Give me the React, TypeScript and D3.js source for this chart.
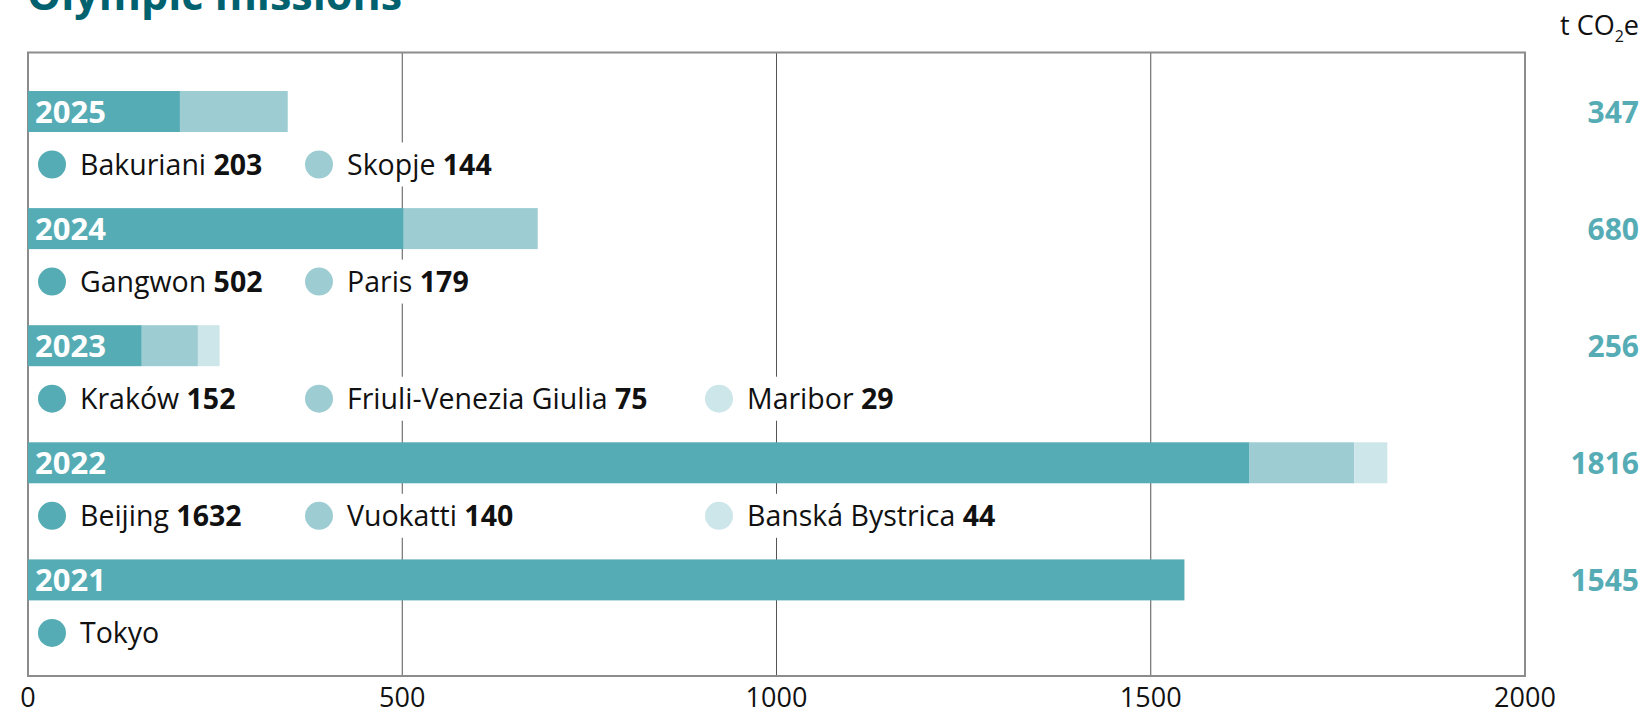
import * as d3 from "d3";
import { useEffect, useRef } from "react";

// data
const years = ["2025", "2024", "2023", "2022", "2021"];
const totals = [347, 680, 256, 1816, 1545];
const venueNames = [
    ["Bakuriani", "Skopje"],
    ["Gangwon", "Paris"],
    ["Kraków", "Friuli-Venezia Giulia", "Maribor"],
    ["Beijing", "Vuokatti", "Banská Bystrica"],
    ["Tokyo"],
];
const venueValues = [
    [203, 144],
    [502, 179],
    [152, 75, 29],
    [1632, 140, 44],
    [1545],
];
const xTicks = [0, 500, 1000, 1500, 2000];
const unitLabel = "t CO";

const W = 1644;
const H = 713;
const FONT = "'Open Sans', 'Noto Sans', sans-serif";
const shades = ["#56acb5", "#9dcdd3", "#cde6ea"];
const legendCols = [52, 319, 719];

export default function App() {
    const svgRef = useRef<SVGSVGElement | null>(null);

    useEffect(() => {
        const svg = d3.select(svgRef.current);
        svg.selectAll("*").remove();

        const frame = { left: 28, right: 1525, top: 52.5, bottom: 676 };

        const x = d3.scaleLinear().domain([0, 2000]).range([frame.left, frame.right]);
        const y = d3
            .scaleBand()
            .domain(years)
            .range([91, 91 + 117.1 * years.length])
            .paddingInner(0);
        const barH = 41;

        svg.append("rect").attr("width", W).attr("height", H).attr("fill", "#fff");

        // title (cut off at top, as in the source)
        svg.append("text")
            .attr("x", 27)
            .attr("y", 10)
            .attr("font-family", FONT)
            .attr("font-weight", 700)
            .attr("font-size", 43)
            .attr("fill", "#00626f")
            .text("Olympic missions");

        // unit
        const unit = svg
            .append("text")
            .attr("x", 1639)
            .attr("y", 35)
            .attr("text-anchor", "end")
            .attr("font-family", FONT)
            .attr("font-size", 27)
            .attr("fill", "#111");
        unit.append("tspan").text(unitLabel);
        unit.append("tspan").attr("font-size", 16).attr("dy", 7).text("2");
        unit.append("tspan").attr("dy", -7).text("e");

        // grid
        svg.append("g")
            .selectAll("line")
            .data(xTicks.slice(1, -1))
            .join("line")
            .attr("x1", (d) => x(d))
            .attr("x2", (d) => x(d))
            .attr("y1", frame.top)
            .attr("y2", frame.bottom)
            .attr("stroke", "#555")
            .attr("stroke-width", 1);

        // frame
        svg.append("rect")
            .attr("x", frame.left)
            .attr("y", frame.top)
            .attr("width", frame.right - frame.left)
            .attr("height", frame.bottom - frame.top)
            .attr("fill", "none")
            .attr("stroke", "#8c8c8c")
            .attr("stroke-width", 2);

        // tick labels
        svg.append("g")
            .selectAll("text")
            .data(xTicks)
            .join("text")
            .attr("x", (d) => x(d))
            .attr("y", 707)
            .attr("text-anchor", "middle")
            .attr("font-family", FONT)
            .attr("font-size", 27)
            .attr("fill", "#111")
            .text((d) => d);

        years.forEach((yr, i) => {
            const top = y(yr)!;
            const vals = venueValues[i];
            const starts = d3.cumsum([0, ...vals]);
            const g = svg.append("g");

            g.selectAll("rect")
                .data(vals)
                .join("rect")
                .attr("x", (_, j) => x(starts[j]))
                .attr("width", (d) => x(d) - x(0))
                .attr("y", top)
                .attr("height", barH)
                .attr("fill", (_, j) => shades[j]);

            g.append("text")
                .attr("x", x(0) + 7)
                .attr("y", top + barH / 2 + 11)
                .attr("font-family", FONT)
                .attr("font-weight", 700)
                .attr("font-size", 31)
                .attr("fill", "#fff")
                .text(yr);

            g.append("text")
                .attr("x", 1639)
                .attr("y", top + barH / 2 + 11)
                .attr("text-anchor", "end")
                .attr("font-family", FONT)
                .attr("font-weight", 700)
                .attr("font-size", 30)
                .attr("fill", "#56acb5")
                .text(totals[i]);

            // legend row
            const ly = top + 73.5;
            venueNames[i].forEach((name, j) => {
                const cx = legendCols[j];
                const item = g.append("g");
                const bg = item.append("rect").attr("fill", "#fff");
                item.append("circle")
                    .attr("cx", cx)
                    .attr("cy", ly)
                    .attr("r", 14)
                    .attr("fill", shades[j]);
                const t = item
                    .append("text")
                    .attr("x", cx + 28)
                    .attr("y", ly + 10)
                    .attr("font-family", FONT)
                    .attr("font-size", 28.5)
                    .attr("fill", "#111");
                t.append("tspan").text(name);
                if (vals.length > 1) {
                    t.append("tspan").attr("font-weight", 700).text(" " + vals[j]);
                }
                const tw = (t.node() as SVGTextElement).getComputedTextLength();
                bg.attr("x", cx - 16)
                    .attr("y", ly - 22)
                    .attr("width", tw + 50)
                    .attr("height", 44);
            });
        });
    }, []);

    return (
        <svg
            ref={svgRef}
            width={W}
            height={H}
            style={{ position: "absolute", left: 0, top: 0, display: "block" }}
        ></svg>
    );
}
